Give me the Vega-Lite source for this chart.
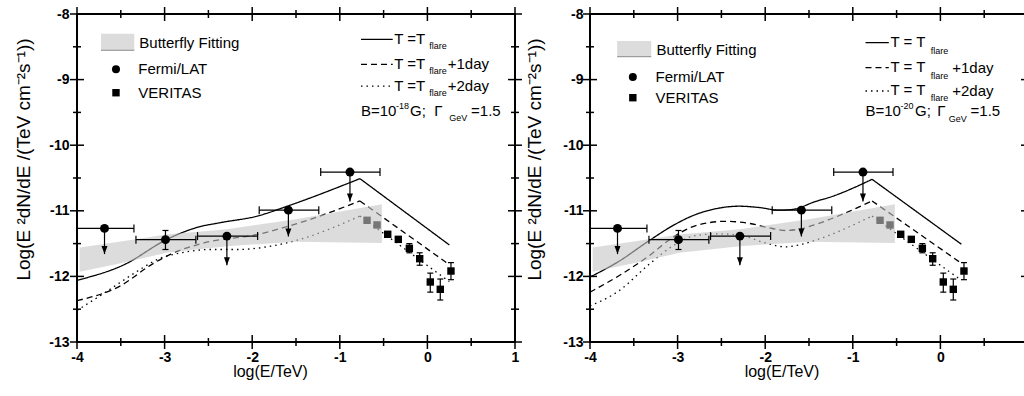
{
  "$schema": "https://vega.github.io/schema/vega-lite/v6.json",
  "padding": {"left": 13, "top": 6, "right": 0, "bottom": 0},
  "autosize": {"type": "pad"},
  "background": "white",
  "spacing": 75,
  "bounds": "flush",
  "config": {
    "view": {"stroke": "black", "strokeWidth": 2},
    "font": "Liberation Sans",
    "axis": {"labelColor": "black", "titleColor": "black", "grid": false, "domain": false, "labelFont": "Liberation Sans", "titleFont": "Liberation Sans"}
  },
  "datasets": {
    "curves": [
      {"panel": "L", "case": "flare", "seg": "a", "x": -4, "y": -12.06},
      {"panel": "L", "case": "flare", "seg": "a", "x": -3.46, "y": -11.82},
      {"panel": "L", "case": "flare", "seg": "a", "x": -2.98, "y": -11.44},
      {"panel": "L", "case": "flare", "seg": "a", "x": -2.85, "y": -11.36},
      {"panel": "L", "case": "flare", "seg": "a", "x": -2.62, "y": -11.25},
      {"panel": "L", "case": "flare", "seg": "a", "x": -2.36, "y": -11.18},
      {"panel": "L", "case": "flare", "seg": "a", "x": -1.94, "y": -11.08},
      {"panel": "L", "case": "flare", "seg": "a", "x": -1.6, "y": -10.93},
      {"panel": "L", "case": "flare", "seg": "a", "x": -0.77, "y": -10.51},
      {"panel": "L", "case": "flare", "seg": "b", "x": -0.77, "y": -10.51},
      {"panel": "L", "case": "flare", "seg": "b", "x": 0.25, "y": -11.52},
      {"panel": "L", "case": "day1", "seg": "a", "x": -4, "y": -12.37},
      {"panel": "L", "case": "day1", "seg": "a", "x": -3.5, "y": -12.14},
      {"panel": "L", "case": "day1", "seg": "a", "x": -3.15, "y": -11.82},
      {"panel": "L", "case": "day1", "seg": "a", "x": -2.93, "y": -11.66},
      {"panel": "L", "case": "day1", "seg": "a", "x": -2.55, "y": -11.49},
      {"panel": "L", "case": "day1", "seg": "a", "x": -1.94, "y": -11.36},
      {"panel": "L", "case": "day1", "seg": "a", "x": -1.5, "y": -11.2},
      {"panel": "L", "case": "day1", "seg": "a", "x": -0.77, "y": -10.85},
      {"panel": "L", "case": "day1", "seg": "b", "x": -0.77, "y": -10.85},
      {"panel": "L", "case": "day1", "seg": "b", "x": 0.25, "y": -11.82},
      {"panel": "L", "case": "day2", "seg": "a", "x": -4, "y": -12.52},
      {"panel": "L", "case": "day2", "seg": "a", "x": -3.65, "y": -12.22},
      {"panel": "L", "case": "day2", "seg": "a", "x": -3.31, "y": -11.92},
      {"panel": "L", "case": "day2", "seg": "a", "x": -3.08, "y": -11.74},
      {"panel": "L", "case": "day2", "seg": "a", "x": -2.81, "y": -11.64},
      {"panel": "L", "case": "day2", "seg": "a", "x": -2.47, "y": -11.59},
      {"panel": "L", "case": "day2", "seg": "a", "x": -2.17, "y": -11.59},
      {"panel": "L", "case": "day2", "seg": "a", "x": -1.79, "y": -11.54},
      {"panel": "L", "case": "day2", "seg": "a", "x": -1.44, "y": -11.43},
      {"panel": "L", "case": "day2", "seg": "a", "x": -0.77, "y": -11.08},
      {"panel": "L", "case": "day2", "seg": "b", "x": -0.77, "y": -11.08},
      {"panel": "L", "case": "day2", "seg": "b", "x": 0.25, "y": -12.08},
      {"panel": "R", "case": "flare", "seg": "a", "x": -4, "y": -12.01},
      {"panel": "R", "case": "flare", "seg": "a", "x": -3.67, "y": -11.77},
      {"panel": "R", "case": "flare", "seg": "a", "x": -3.33, "y": -11.46},
      {"panel": "R", "case": "flare", "seg": "a", "x": -3.06, "y": -11.23},
      {"panel": "R", "case": "flare", "seg": "a", "x": -2.8, "y": -11.06},
      {"panel": "R", "case": "flare", "seg": "a", "x": -2.53, "y": -10.96},
      {"panel": "R", "case": "flare", "seg": "a", "x": -2.3, "y": -10.93},
      {"panel": "R", "case": "flare", "seg": "a", "x": -2.07, "y": -10.95},
      {"panel": "R", "case": "flare", "seg": "a", "x": -1.845, "y": -10.99},
      {"panel": "R", "case": "flare", "seg": "a", "x": -1.69, "y": -10.98},
      {"panel": "R", "case": "flare", "seg": "a", "x": -1.43, "y": -10.86},
      {"panel": "R", "case": "flare", "seg": "a", "x": -1.255, "y": -10.79},
      {"panel": "R", "case": "flare", "seg": "a", "x": -0.78, "y": -10.52},
      {"panel": "R", "case": "flare", "seg": "b", "x": -0.78, "y": -10.52},
      {"panel": "R", "case": "flare", "seg": "b", "x": 0.24, "y": -11.51},
      {"panel": "R", "case": "day1", "seg": "a", "x": -4, "y": -12.24},
      {"panel": "R", "case": "day1", "seg": "a", "x": -3.67, "y": -11.99},
      {"panel": "R", "case": "day1", "seg": "a", "x": -3.33, "y": -11.69},
      {"panel": "R", "case": "day1", "seg": "a", "x": -3.06, "y": -11.41},
      {"panel": "R", "case": "day1", "seg": "a", "x": -2.8, "y": -11.23},
      {"panel": "R", "case": "day1", "seg": "a", "x": -2.45, "y": -11.16},
      {"panel": "R", "case": "day1", "seg": "a", "x": -2.19, "y": -11.19},
      {"panel": "R", "case": "day1", "seg": "a", "x": -1.92, "y": -11.27},
      {"panel": "R", "case": "day1", "seg": "a", "x": -1.77, "y": -11.3},
      {"panel": "R", "case": "day1", "seg": "a", "x": -1.58, "y": -11.27},
      {"panel": "R", "case": "day1", "seg": "a", "x": -1.43, "y": -11.21},
      {"panel": "R", "case": "day1", "seg": "a", "x": -0.78, "y": -10.85},
      {"panel": "R", "case": "day1", "seg": "b", "x": -0.78, "y": -10.85},
      {"panel": "R", "case": "day1", "seg": "b", "x": 0.24, "y": -11.8},
      {"panel": "R", "case": "day2", "seg": "a", "x": -4, "y": -12.45},
      {"panel": "R", "case": "day2", "seg": "a", "x": -3.67, "y": -12.22},
      {"panel": "R", "case": "day2", "seg": "a", "x": -3.33, "y": -11.82},
      {"panel": "R", "case": "day2", "seg": "a", "x": -3.06, "y": -11.54},
      {"panel": "R", "case": "day2", "seg": "a", "x": -2.8, "y": -11.38},
      {"panel": "R", "case": "day2", "seg": "a", "x": -2.53, "y": -11.35},
      {"panel": "R", "case": "day2", "seg": "a", "x": -2.26, "y": -11.38},
      {"panel": "R", "case": "day2", "seg": "a", "x": -2.0, "y": -11.49},
      {"panel": "R", "case": "day2", "seg": "a", "x": -1.77, "y": -11.55},
      {"panel": "R", "case": "day2", "seg": "a", "x": -1.58, "y": -11.51},
      {"panel": "R", "case": "day2", "seg": "a", "x": -1.43, "y": -11.45},
      {"panel": "R", "case": "day2", "seg": "a", "x": -0.78, "y": -11.08},
      {"panel": "R", "case": "day2", "seg": "b", "x": -0.78, "y": -11.08},
      {"panel": "R", "case": "day2", "seg": "b", "x": 0.24, "y": -12.06}
    ],
    "band": [
      {"x": -3.97, "lo": -11.93, "hi": -11.56},
      {"x": -3.46, "lo": -11.79, "hi": -11.46},
      {"x": -2.98, "lo": -11.64, "hi": -11.36},
      {"x": -2.29, "lo": -11.54, "hi": -11.28},
      {"x": -1.5, "lo": -11.47, "hi": -11.13},
      {"x": -0.52, "lo": -11.49, "hi": -10.9}
    ],
    "veritas": [
      {"x": -0.689, "y": -11.145},
      {"x": -0.575, "y": -11.216},
      {"x": -0.453, "y": -11.358},
      {"x": -0.332, "y": -11.435},
      {"x": -0.206, "y": -11.572, "ylo": -11.64, "yhi": -11.5},
      {"x": -0.088, "y": -11.73, "ylo": -11.83, "yhi": -11.64},
      {"x": 0.033, "y": -12.085, "ylo": -12.24, "yhi": -11.95},
      {"x": 0.147, "y": -12.197, "ylo": -12.36, "yhi": -12.04},
      {"x": 0.269, "y": -11.918, "ylo": -12.05, "yhi": -11.79}
    ],
    "fermi": [
      {"x": -3.686, "y": -11.268, "xlo": -4.02, "xhi": -3.35, "ul": -11.66},
      {"x": -2.99, "y": -11.44, "xlo": -3.327, "xhi": -2.643, "ylo": -11.59, "yhi": -11.3},
      {"x": -2.289, "y": -11.386, "xlo": -2.624, "xhi": -1.938, "ul": -11.83},
      {"x": -1.587, "y": -10.99, "xlo": -1.92, "xhi": -1.24, "ul": -11.39},
      {"x": -0.884, "y": -10.41, "xlo": -1.218, "xhi": -0.541, "ul": -10.86}
    ],
    "xticks": [
      {"v": -4, "kind": "major", "edge": -13}, {"v": -3.5, "kind": "minor", "edge": -13}, {"v": -3, "kind": "major", "edge": -13}, {"v": -2.5, "kind": "minor", "edge": -13},
      {"v": -2, "kind": "major", "edge": -13}, {"v": -1.5, "kind": "minor", "edge": -13}, {"v": -1, "kind": "major", "edge": -13}, {"v": -0.5, "kind": "minor", "edge": -13},
      {"v": 0, "kind": "major", "edge": -13}, {"v": 0.5, "kind": "minor", "edge": -13}, {"v": 1, "kind": "major", "edge": -13},
      {"v": -4, "kind": "major", "edge": -8}, {"v": -3.5, "kind": "minor", "edge": -8}, {"v": -3, "kind": "major", "edge": -8}, {"v": -2.5, "kind": "minor", "edge": -8},
      {"v": -2, "kind": "major", "edge": -8}, {"v": -1.5, "kind": "minor", "edge": -8}, {"v": -1, "kind": "major", "edge": -8}, {"v": -0.5, "kind": "minor", "edge": -8},
      {"v": 0, "kind": "major", "edge": -8}, {"v": 0.5, "kind": "minor", "edge": -8}, {"v": 1, "kind": "major", "edge": -8}
    ],
    "yticks": [
      {"v": -13, "kind": "major", "edge": -4}, {"v": -12.5, "kind": "minor", "edge": -4}, {"v": -12, "kind": "major", "edge": -4}, {"v": -11.5, "kind": "minor", "edge": -4},
      {"v": -11, "kind": "major", "edge": -4}, {"v": -10.5, "kind": "minor", "edge": -4}, {"v": -10, "kind": "major", "edge": -4}, {"v": -9.5, "kind": "minor", "edge": -4},
      {"v": -9, "kind": "major", "edge": -4}, {"v": -8.5, "kind": "minor", "edge": -4}, {"v": -8, "kind": "major", "edge": -4},
      {"v": -13, "kind": "major", "edge": 1}, {"v": -12.5, "kind": "minor", "edge": 1}, {"v": -12, "kind": "major", "edge": 1}, {"v": -11.5, "kind": "minor", "edge": 1},
      {"v": -11, "kind": "major", "edge": 1}, {"v": -10.5, "kind": "minor", "edge": 1}, {"v": -10, "kind": "major", "edge": 1}, {"v": -9.5, "kind": "minor", "edge": 1},
      {"v": -9, "kind": "major", "edge": 1}, {"v": -8.5, "kind": "minor", "edge": 1}, {"v": -8, "kind": "major", "edge": 1}
    ],
    "legrect": [
      {"panel": "L", "x": -3.726, "x2": -3.346, "y": -8.3, "y2": -8.553},
      {"panel": "R", "x": -3.69, "x2": -3.301, "y": -8.412, "y2": -8.651}
    ],
    "legsym": [
      {"panel": "L", "kind": "F", "x": -3.555, "y": -8.843},
      {"panel": "L", "kind": "V", "x": -3.555, "y": -9.2},
      {"panel": "R", "kind": "F", "x": -3.511, "y": -8.96},
      {"panel": "R", "kind": "V", "x": -3.511, "y": -9.276}
    ],
    "leglines": [
      {"panel": "L", "case": "flare", "x": -0.758, "y": -8.386},
      {"panel": "L", "case": "flare", "x": -0.396, "y": -8.386},
      {"panel": "L", "case": "day1", "x": -0.758, "y": -8.767},
      {"panel": "L", "case": "day1", "x": -0.396, "y": -8.767},
      {"panel": "L", "case": "day2", "x": -0.758, "y": -9.098},
      {"panel": "L", "case": "day2", "x": -0.396, "y": -9.098},
      {"panel": "R", "case": "flare", "x": -0.855, "y": -8.437},
      {"panel": "R", "case": "flare", "x": -0.589, "y": -8.437},
      {"panel": "R", "case": "day1", "x": -0.855, "y": -8.818},
      {"panel": "R", "case": "day1", "x": -0.589, "y": -8.818},
      {"panel": "R", "case": "day2", "x": -0.855, "y": -9.174},
      {"panel": "R", "case": "day2", "x": -0.589, "y": -9.174}
    ],
    "legtext": [
      {"panel": "L", "x": -3.289, "y": -8.437, "text": "Butterfly Fitting"},
      {"panel": "L", "x": -3.3, "y": -8.843, "text": "Fermi/LAT"},
      {"panel": "L", "x": -3.3, "y": -9.2, "text": "VERITAS"},
      {"panel": "L", "x": -0.378, "y": -8.375, "text": "T =T"},
      {"panel": "L", "x": -0.378, "y": -8.757, "text": "T =T"},
      {"panel": "L", "x": 0.232, "y": -8.767, "text": "+1day"},
      {"panel": "L", "x": -0.378, "y": -9.09, "text": "T =T"},
      {"panel": "L", "x": 0.232, "y": -9.098, "text": "+2day"},
      {"panel": "L", "x": -0.758, "y": -9.479, "text": "B=10"},
      {"panel": "L", "x": -0.199, "y": -9.479, "text": "G;"},
      {"panel": "L", "x": 0.079, "y": -9.479, "text": "Γ"},
      {"panel": "L", "x": 0.498, "y": -9.479, "text": "=1.5"},
      {"panel": "R", "x": -3.241, "y": -8.554, "text": "Butterfly Fitting"},
      {"panel": "R", "x": -3.252, "y": -8.96, "text": "Fermi/LAT"},
      {"panel": "R", "x": -3.252, "y": -9.276, "text": "VERITAS"},
      {"panel": "R", "x": -0.57, "y": -8.422, "text": "T = T"},
      {"panel": "R", "x": -0.57, "y": -8.808, "text": "T = T"},
      {"panel": "R", "x": 0.135, "y": -8.818, "text": "+1day"},
      {"panel": "R", "x": -0.57, "y": -9.164, "text": "T = T"},
      {"panel": "R", "x": 0.135, "y": -9.174, "text": "+2day"},
      {"panel": "R", "x": -0.855, "y": -9.479, "text": "B=10"},
      {"panel": "R", "x": -0.29, "y": -9.479, "text": "G;"},
      {"panel": "R", "x": -0.037, "y": -9.479, "text": "Γ"},
      {"panel": "R", "x": 0.344, "y": -9.479, "text": "=1.5"}
    ],
    "legsub": [
      {"panel": "L", "x": 0.022, "y": -8.488, "text": "flare"},
      {"panel": "L", "x": 0.022, "y": -8.869, "text": "flare"},
      {"panel": "L", "x": 0.022, "y": -9.2, "text": "flare"},
      {"panel": "L", "x": 0.25, "y": -9.581, "text": "GeV"},
      {"panel": "L", "x": -0.358, "y": -9.402, "text": "-18"},
      {"panel": "R", "x": -0.11, "y": -8.564, "text": "flare"},
      {"panel": "R", "x": -0.11, "y": -8.945, "text": "flare"},
      {"panel": "R", "x": -0.11, "y": -9.285, "text": "flare"},
      {"panel": "R", "x": 0.096, "y": -9.606, "text": "GeV"},
      {"panel": "R", "x": -0.455, "y": -9.402, "text": "-20"}
    ]
  },
  "hconcat": [
    {
      "width": 438,
      "height": 328,
      "resolve": {"axis": {"x": "independent", "y": "independent"}},
      "layer": [
        {
          "data": {"name": "curves"},
          "transform": [{"filter": "datum.panel == 'L'"}],
          "mark": {"type": "line", "color": "black", "strokeWidth": 1.3, "interpolate": "monotone", "clip": true},
          "encoding": {
            "x": {"field": "x", "type": "quantitative", "scale": {"domain": [-4, 1], "nice": false, "zero": false},
              "axis": {"orient": "bottom", "values": [-4, -3, -2, -1, 0, 1], "ticks": false, "labelFlush": false, "labelFontSize": 14, "labelFontWeight": "bold", "labelPadding": 8, "labelExpr": "replace(datum.label, '−', '-')", "title": "log(E/TeV)", "titleFontSize": 16, "titleFontWeight": "normal", "titleX": 193, "titleY": 34, "titleAlign": "center", "titleBaseline": "alphabetic"}},
            "y": {"field": "y", "type": "quantitative", "scale": {"domain": [-13, -8], "nice": false, "zero": false},
              "axis": {"orient": "left", "values": [-13, -12, -11, -10, -9, -8], "ticks": false, "labelFlush": false, "labelFontSize": 14, "labelFontWeight": "bold", "labelPadding": 8, "labelExpr": "replace(datum.label, '−', '-')", "title": "Log(E ²dN/dE /(TeV cm⁻²s⁻¹))", "titleFontSize": 19, "titleFontWeight": "normal", "titleX": -47.5, "titleY": 145, "titleAngle": -90, "titleAlign": "center", "titleBaseline": "alphabetic"}},
            "strokeDash": {"field": "case", "type": "nominal", "scale": {"domain": ["flare", "day1", "day2"], "range": [[1, 0], [6, 4], [1.5, 4]]}, "legend": null},
            "detail": {"field": "seg"}
          }
        },
        {
          "data": {"name": "xticks"},
          "mark": {"type": "tick", "orient": "vertical", "thickness": 1.5, "color": "black", "opacity": 1},
          "encoding": {
            "x": {"field": "v", "type": "quantitative", "scale": {"domain": [-4, 1], "nice": false, "zero": false}, "axis": null},
            "y": {"field": "edge", "type": "quantitative", "scale": {"domain": [-13, -8], "nice": false, "zero": false}, "axis": null},
            "size": {"field": "kind", "type": "nominal", "scale": {"domain": ["major", "minor"], "range": [14, 8]}, "legend": null}
          }
        },
        {
          "data": {"name": "yticks"},
          "mark": {"type": "tick", "orient": "horizontal", "thickness": 1.5, "color": "black", "opacity": 1},
          "encoding": {
            "x": {"field": "edge", "type": "quantitative", "scale": {"domain": [-4, 1], "nice": false, "zero": false}, "axis": null},
            "y": {"field": "v", "type": "quantitative", "scale": {"domain": [-13, -8], "nice": false, "zero": false}, "axis": null},
            "size": {"field": "kind", "type": "nominal", "scale": {"domain": ["major", "minor"], "range": [14, 8]}, "legend": null}
          }
        },
        {
          "data": {"name": "veritas"},
          "transform": [{"filter": "isValid(datum.ylo)"}],
          "mark": {"type": "rule", "color": "black", "strokeWidth": 1.2},
          "encoding": {
            "x": {"field": "x", "type": "quantitative", "scale": {"domain": [-4, 1], "nice": false, "zero": false}, "axis": null},
            "y": {"field": "ylo", "type": "quantitative", "scale": {"domain": [-13, -8], "nice": false, "zero": false}, "axis": null},
            "y2": {"field": "yhi"}
          }
        },
        {
          "data": {"name": "veritas"},
          "transform": [{"filter": "isValid(datum.ylo)"}],
          "mark": {"type": "tick", "orient": "horizontal", "color": "black", "opacity": 1, "size": 6, "thickness": 1.2},
          "encoding": {
            "x": {"field": "x", "type": "quantitative", "scale": {"domain": [-4, 1], "nice": false, "zero": false}, "axis": null},
            "y": {"field": "ylo", "type": "quantitative", "scale": {"domain": [-13, -8], "nice": false, "zero": false}, "axis": null}
          }
        },
        {
          "data": {"name": "veritas"},
          "transform": [{"filter": "isValid(datum.yhi)"}],
          "mark": {"type": "tick", "orient": "horizontal", "color": "black", "opacity": 1, "size": 6, "thickness": 1.2},
          "encoding": {
            "x": {"field": "x", "type": "quantitative", "scale": {"domain": [-4, 1], "nice": false, "zero": false}, "axis": null},
            "y": {"field": "yhi", "type": "quantitative", "scale": {"domain": [-13, -8], "nice": false, "zero": false}, "axis": null}
          }
        },
        {
          "data": {"name": "veritas"},
          "mark": {"type": "point", "shape": "square", "filled": true, "size": 55, "color": "black", "opacity": 1},
          "encoding": {
            "x": {"field": "x", "type": "quantitative", "scale": {"domain": [-4, 1], "nice": false, "zero": false}, "axis": null},
            "y": {"field": "y", "type": "quantitative", "scale": {"domain": [-13, -8], "nice": false, "zero": false}, "axis": null}
          }
        },
        {
          "data": {"name": "band"},
          "mark": {"type": "area", "color": "#c4c4c4", "opacity": 0.6},
          "encoding": {
            "x": {"field": "x", "type": "quantitative", "scale": {"domain": [-4, 1], "nice": false, "zero": false}, "axis": null},
            "y": {"field": "lo", "type": "quantitative", "scale": {"domain": [-13, -8], "nice": false, "zero": false}, "axis": null},
            "y2": {"field": "hi"}
          }
        },
        {
          "data": {"name": "fermi"},
          "mark": {"type": "rule", "color": "black", "strokeWidth": 1.2, "clip": true},
          "encoding": {
            "x": {"field": "xlo", "type": "quantitative", "scale": {"domain": [-4, 1], "nice": false, "zero": false}, "axis": null},
            "x2": {"field": "xhi"},
            "y": {"field": "y", "type": "quantitative", "scale": {"domain": [-13, -8], "nice": false, "zero": false}, "axis": null}
          }
        },
        {
          "data": {"name": "fermi"},
          "mark": {"type": "tick", "orient": "vertical", "color": "black", "opacity": 1, "size": 8, "thickness": 1.2, "clip": true},
          "encoding": {
            "x": {"field": "xlo", "type": "quantitative", "scale": {"domain": [-4, 1], "nice": false, "zero": false}, "axis": null},
            "y": {"field": "y", "type": "quantitative", "scale": {"domain": [-13, -8], "nice": false, "zero": false}, "axis": null}
          }
        },
        {
          "data": {"name": "fermi"},
          "mark": {"type": "tick", "orient": "vertical", "color": "black", "opacity": 1, "size": 8, "thickness": 1.2},
          "encoding": {
            "x": {"field": "xhi", "type": "quantitative", "scale": {"domain": [-4, 1], "nice": false, "zero": false}, "axis": null},
            "y": {"field": "y", "type": "quantitative", "scale": {"domain": [-13, -8], "nice": false, "zero": false}, "axis": null}
          }
        },
        {
          "data": {"name": "fermi"},
          "transform": [{"filter": "isValid(datum.ylo)"}],
          "mark": {"type": "rule", "color": "black", "strokeWidth": 1.2},
          "encoding": {
            "x": {"field": "x", "type": "quantitative", "scale": {"domain": [-4, 1], "nice": false, "zero": false}, "axis": null},
            "y": {"field": "ylo", "type": "quantitative", "scale": {"domain": [-13, -8], "nice": false, "zero": false}, "axis": null},
            "y2": {"field": "yhi"}
          }
        },
        {
          "data": {"name": "fermi"},
          "transform": [{"filter": "isValid(datum.ylo)"}],
          "mark": {"type": "tick", "orient": "horizontal", "color": "black", "opacity": 1, "size": 6, "thickness": 1.2},
          "encoding": {
            "x": {"field": "x", "type": "quantitative", "scale": {"domain": [-4, 1], "nice": false, "zero": false}, "axis": null},
            "y": {"field": "ylo", "type": "quantitative", "scale": {"domain": [-13, -8], "nice": false, "zero": false}, "axis": null}
          }
        },
        {
          "data": {"name": "fermi"},
          "transform": [{"filter": "isValid(datum.yhi)"}],
          "mark": {"type": "tick", "orient": "horizontal", "color": "black", "opacity": 1, "size": 6, "thickness": 1.2},
          "encoding": {
            "x": {"field": "x", "type": "quantitative", "scale": {"domain": [-4, 1], "nice": false, "zero": false}, "axis": null},
            "y": {"field": "yhi", "type": "quantitative", "scale": {"domain": [-13, -8], "nice": false, "zero": false}, "axis": null}
          }
        },
        {
          "data": {"name": "fermi"},
          "transform": [{"filter": "isValid(datum.ul)"}],
          "mark": {"type": "rule", "color": "black", "strokeWidth": 1.2},
          "encoding": {
            "x": {"field": "x", "type": "quantitative", "scale": {"domain": [-4, 1], "nice": false, "zero": false}, "axis": null},
            "y": {"field": "y", "type": "quantitative", "scale": {"domain": [-13, -8], "nice": false, "zero": false}, "axis": null},
            "y2": {"field": "ul"}
          }
        },
        {
          "data": {"name": "fermi"},
          "transform": [{"filter": "isValid(datum.ul)"}],
          "mark": {"type": "point", "shape": "M-0.75,-2L0.75,-2L0,0Z", "filled": true, "size": 64, "color": "black", "opacity": 1},
          "encoding": {
            "x": {"field": "x", "type": "quantitative", "scale": {"domain": [-4, 1], "nice": false, "zero": false}, "axis": null},
            "y": {"field": "ul", "type": "quantitative", "scale": {"domain": [-13, -8], "nice": false, "zero": false}, "axis": null}
          }
        },
        {
          "data": {"name": "fermi"},
          "mark": {"type": "point", "shape": "circle", "filled": true, "size": 80, "color": "black", "opacity": 1},
          "encoding": {
            "x": {"field": "x", "type": "quantitative", "scale": {"domain": [-4, 1], "nice": false, "zero": false}, "axis": null},
            "y": {"field": "y", "type": "quantitative", "scale": {"domain": [-13, -8], "nice": false, "zero": false}, "axis": null}
          }
        },
        {
          "data": {"name": "legrect"},
          "transform": [{"filter": "datum.panel == 'L'"}],
          "mark": {"type": "rect", "color": "#c4c4c4", "opacity": 0.6},
          "encoding": {
            "x": {"field": "x", "type": "quantitative", "scale": {"domain": [-4, 1], "nice": false, "zero": false}, "axis": null},
            "x2": {"field": "x2"},
            "y": {"field": "y", "type": "quantitative", "scale": {"domain": [-13, -8], "nice": false, "zero": false}, "axis": null},
            "y2": {"field": "y2"}
          }
        },
        {
          "data": {"name": "legrect"},
          "transform": [{"filter": "datum.panel == 'L'"}],
          "mark": {"type": "rule", "color": "#8a8a8a", "strokeWidth": 1},
          "encoding": {
            "x": {"field": "x", "type": "quantitative", "scale": {"domain": [-4, 1], "nice": false, "zero": false}, "axis": null},
            "x2": {"field": "x2"},
            "y": {"field": "y2", "type": "quantitative", "scale": {"domain": [-13, -8], "nice": false, "zero": false}, "axis": null}
          }
        },
        {
          "data": {"name": "leglines"},
          "transform": [{"filter": "datum.panel == 'L'"}],
          "mark": {"type": "line", "color": "black", "strokeWidth": 1.3},
          "encoding": {
            "x": {"field": "x", "type": "quantitative", "scale": {"domain": [-4, 1], "nice": false, "zero": false}, "axis": null},
            "y": {"field": "y", "type": "quantitative", "scale": {"domain": [-13, -8], "nice": false, "zero": false}, "axis": null},
            "strokeDash": {"field": "case", "type": "nominal", "scale": {"domain": ["flare", "day1", "day2"], "range": [[1, 0], [6, 4], [1.5, 4]]}, "legend": null}
          }
        },
        {
          "data": {"name": "legsym"},
          "transform": [{"filter": "datum.panel == 'L' && datum.kind == 'F'"}],
          "mark": {"type": "point", "shape": "circle", "filled": true, "size": 64, "color": "black", "opacity": 1},
          "encoding": {
            "x": {"field": "x", "type": "quantitative", "scale": {"domain": [-4, 1], "nice": false, "zero": false}, "axis": null},
            "y": {"field": "y", "type": "quantitative", "scale": {"domain": [-13, -8], "nice": false, "zero": false}, "axis": null}
          }
        },
        {
          "data": {"name": "legsym"},
          "transform": [{"filter": "datum.panel == 'L' && datum.kind == 'V'"}],
          "mark": {"type": "point", "shape": "square", "filled": true, "size": 55, "color": "black", "opacity": 1},
          "encoding": {
            "x": {"field": "x", "type": "quantitative", "scale": {"domain": [-4, 1], "nice": false, "zero": false}, "axis": null},
            "y": {"field": "y", "type": "quantitative", "scale": {"domain": [-13, -8], "nice": false, "zero": false}, "axis": null}
          }
        },
        {
          "data": {"name": "legtext"},
          "transform": [{"filter": "datum.panel == 'L'"}],
          "mark": {"type": "text", "align": "left", "baseline": "middle", "fontSize": 15, "font": "Liberation Sans", "color": "black"},
          "encoding": {
            "x": {"field": "x", "type": "quantitative", "scale": {"domain": [-4, 1], "nice": false, "zero": false}, "axis": null},
            "y": {"field": "y", "type": "quantitative", "scale": {"domain": [-13, -8], "nice": false, "zero": false}, "axis": null},
            "text": {"field": "text"}
          }
        },
        {
          "data": {"name": "legsub"},
          "transform": [{"filter": "datum.panel == 'L'"}],
          "mark": {"type": "text", "align": "left", "baseline": "middle", "fontSize": 9, "font": "Liberation Sans", "color": "black"},
          "encoding": {
            "x": {"field": "x", "type": "quantitative", "scale": {"domain": [-4, 1], "nice": false, "zero": false}, "axis": null},
            "y": {"field": "y", "type": "quantitative", "scale": {"domain": [-13, -8], "nice": false, "zero": false}, "axis": null},
            "text": {"field": "text"}
          }
        }
      ]
    },
    {
      "width": 438,
      "height": 328,
      "resolve": {"axis": {"x": "independent", "y": "independent"}},
      "layer": [
        {
          "data": {"name": "curves"},
          "transform": [{"filter": "datum.panel == 'R'"}],
          "mark": {"type": "line", "color": "black", "strokeWidth": 1.3, "interpolate": "monotone", "clip": true},
          "encoding": {
            "x": {"field": "x", "type": "quantitative", "scale": {"domain": [-4, 1], "nice": false, "zero": false},
              "axis": {"orient": "bottom", "values": [-4, -3, -2, -1, 0], "ticks": false, "labelFlush": false, "labelFontSize": 14, "labelFontWeight": "bold", "labelPadding": 8, "labelExpr": "replace(datum.label, '−', '-')", "title": "log(E/TeV)", "titleFontSize": 16, "titleFontWeight": "normal", "titleX": 191.5, "titleY": 34, "titleAlign": "center", "titleBaseline": "alphabetic"}},
            "y": {"field": "y", "type": "quantitative", "scale": {"domain": [-13, -8], "nice": false, "zero": false},
              "axis": {"orient": "left", "values": [-13, -12, -11, -10, -9, -8], "ticks": false, "labelFlush": false, "labelFontSize": 14, "labelFontWeight": "bold", "labelPadding": 7, "labelExpr": "replace(datum.label, '−', '-')", "title": "Log(E ²dN/dE /(TeV cm⁻²s⁻¹))", "titleFontSize": 19, "titleFontWeight": "normal", "titleX": -50, "titleY": 145, "titleAngle": -90, "titleAlign": "center", "titleBaseline": "alphabetic"}},
            "strokeDash": {"field": "case", "type": "nominal", "scale": {"domain": ["flare", "day1", "day2"], "range": [[1, 0], [6, 4], [1.5, 4]]}, "legend": null},
            "detail": {"field": "seg"}
          }
        },
        {
          "data": {"name": "xticks"},
          "mark": {"type": "tick", "orient": "vertical", "thickness": 1.5, "color": "black", "opacity": 1},
          "encoding": {
            "x": {"field": "v", "type": "quantitative", "scale": {"domain": [-4, 1], "nice": false, "zero": false}, "axis": null},
            "y": {"field": "edge", "type": "quantitative", "scale": {"domain": [-13, -8], "nice": false, "zero": false}, "axis": null},
            "size": {"field": "kind", "type": "nominal", "scale": {"domain": ["major", "minor"], "range": [14, 8]}, "legend": null}
          }
        },
        {
          "data": {"name": "yticks"},
          "mark": {"type": "tick", "orient": "horizontal", "thickness": 1.5, "color": "black", "opacity": 1},
          "encoding": {
            "x": {"field": "edge", "type": "quantitative", "scale": {"domain": [-4, 1], "nice": false, "zero": false}, "axis": null},
            "y": {"field": "v", "type": "quantitative", "scale": {"domain": [-13, -8], "nice": false, "zero": false}, "axis": null},
            "size": {"field": "kind", "type": "nominal", "scale": {"domain": ["major", "minor"], "range": [14, 8]}, "legend": null}
          }
        },
        {
          "data": {"name": "veritas"},
          "transform": [{"filter": "isValid(datum.ylo)"}],
          "mark": {"type": "rule", "color": "black", "strokeWidth": 1.2},
          "encoding": {
            "x": {"field": "x", "type": "quantitative", "scale": {"domain": [-4, 1], "nice": false, "zero": false}, "axis": null},
            "y": {"field": "ylo", "type": "quantitative", "scale": {"domain": [-13, -8], "nice": false, "zero": false}, "axis": null},
            "y2": {"field": "yhi"}
          }
        },
        {
          "data": {"name": "veritas"},
          "transform": [{"filter": "isValid(datum.ylo)"}],
          "mark": {"type": "tick", "orient": "horizontal", "color": "black", "opacity": 1, "size": 6, "thickness": 1.2},
          "encoding": {
            "x": {"field": "x", "type": "quantitative", "scale": {"domain": [-4, 1], "nice": false, "zero": false}, "axis": null},
            "y": {"field": "ylo", "type": "quantitative", "scale": {"domain": [-13, -8], "nice": false, "zero": false}, "axis": null}
          }
        },
        {
          "data": {"name": "veritas"},
          "transform": [{"filter": "isValid(datum.yhi)"}],
          "mark": {"type": "tick", "orient": "horizontal", "color": "black", "opacity": 1, "size": 6, "thickness": 1.2},
          "encoding": {
            "x": {"field": "x", "type": "quantitative", "scale": {"domain": [-4, 1], "nice": false, "zero": false}, "axis": null},
            "y": {"field": "yhi", "type": "quantitative", "scale": {"domain": [-13, -8], "nice": false, "zero": false}, "axis": null}
          }
        },
        {
          "data": {"name": "veritas"},
          "mark": {"type": "point", "shape": "square", "filled": true, "size": 55, "color": "black", "opacity": 1},
          "encoding": {
            "x": {"field": "x", "type": "quantitative", "scale": {"domain": [-4, 1], "nice": false, "zero": false}, "axis": null},
            "y": {"field": "y", "type": "quantitative", "scale": {"domain": [-13, -8], "nice": false, "zero": false}, "axis": null}
          }
        },
        {
          "data": {"name": "band"},
          "mark": {"type": "area", "color": "#c4c4c4", "opacity": 0.6},
          "encoding": {
            "x": {"field": "x", "type": "quantitative", "scale": {"domain": [-4, 1], "nice": false, "zero": false}, "axis": null},
            "y": {"field": "lo", "type": "quantitative", "scale": {"domain": [-13, -8], "nice": false, "zero": false}, "axis": null},
            "y2": {"field": "hi"}
          }
        },
        {
          "data": {"name": "fermi"},
          "mark": {"type": "rule", "color": "black", "strokeWidth": 1.2, "clip": true},
          "encoding": {
            "x": {"field": "xlo", "type": "quantitative", "scale": {"domain": [-4, 1], "nice": false, "zero": false}, "axis": null},
            "x2": {"field": "xhi"},
            "y": {"field": "y", "type": "quantitative", "scale": {"domain": [-13, -8], "nice": false, "zero": false}, "axis": null}
          }
        },
        {
          "data": {"name": "fermi"},
          "mark": {"type": "tick", "orient": "vertical", "color": "black", "opacity": 1, "size": 8, "thickness": 1.2, "clip": true},
          "encoding": {
            "x": {"field": "xlo", "type": "quantitative", "scale": {"domain": [-4, 1], "nice": false, "zero": false}, "axis": null},
            "y": {"field": "y", "type": "quantitative", "scale": {"domain": [-13, -8], "nice": false, "zero": false}, "axis": null}
          }
        },
        {
          "data": {"name": "fermi"},
          "mark": {"type": "tick", "orient": "vertical", "color": "black", "opacity": 1, "size": 8, "thickness": 1.2},
          "encoding": {
            "x": {"field": "xhi", "type": "quantitative", "scale": {"domain": [-4, 1], "nice": false, "zero": false}, "axis": null},
            "y": {"field": "y", "type": "quantitative", "scale": {"domain": [-13, -8], "nice": false, "zero": false}, "axis": null}
          }
        },
        {
          "data": {"name": "fermi"},
          "transform": [{"filter": "isValid(datum.ylo)"}],
          "mark": {"type": "rule", "color": "black", "strokeWidth": 1.2},
          "encoding": {
            "x": {"field": "x", "type": "quantitative", "scale": {"domain": [-4, 1], "nice": false, "zero": false}, "axis": null},
            "y": {"field": "ylo", "type": "quantitative", "scale": {"domain": [-13, -8], "nice": false, "zero": false}, "axis": null},
            "y2": {"field": "yhi"}
          }
        },
        {
          "data": {"name": "fermi"},
          "transform": [{"filter": "isValid(datum.ylo)"}],
          "mark": {"type": "tick", "orient": "horizontal", "color": "black", "opacity": 1, "size": 6, "thickness": 1.2},
          "encoding": {
            "x": {"field": "x", "type": "quantitative", "scale": {"domain": [-4, 1], "nice": false, "zero": false}, "axis": null},
            "y": {"field": "ylo", "type": "quantitative", "scale": {"domain": [-13, -8], "nice": false, "zero": false}, "axis": null}
          }
        },
        {
          "data": {"name": "fermi"},
          "transform": [{"filter": "isValid(datum.yhi)"}],
          "mark": {"type": "tick", "orient": "horizontal", "color": "black", "opacity": 1, "size": 6, "thickness": 1.2},
          "encoding": {
            "x": {"field": "x", "type": "quantitative", "scale": {"domain": [-4, 1], "nice": false, "zero": false}, "axis": null},
            "y": {"field": "yhi", "type": "quantitative", "scale": {"domain": [-13, -8], "nice": false, "zero": false}, "axis": null}
          }
        },
        {
          "data": {"name": "fermi"},
          "transform": [{"filter": "isValid(datum.ul)"}],
          "mark": {"type": "rule", "color": "black", "strokeWidth": 1.2},
          "encoding": {
            "x": {"field": "x", "type": "quantitative", "scale": {"domain": [-4, 1], "nice": false, "zero": false}, "axis": null},
            "y": {"field": "y", "type": "quantitative", "scale": {"domain": [-13, -8], "nice": false, "zero": false}, "axis": null},
            "y2": {"field": "ul"}
          }
        },
        {
          "data": {"name": "fermi"},
          "transform": [{"filter": "isValid(datum.ul)"}],
          "mark": {"type": "point", "shape": "M-0.75,-2L0.75,-2L0,0Z", "filled": true, "size": 64, "color": "black", "opacity": 1},
          "encoding": {
            "x": {"field": "x", "type": "quantitative", "scale": {"domain": [-4, 1], "nice": false, "zero": false}, "axis": null},
            "y": {"field": "ul", "type": "quantitative", "scale": {"domain": [-13, -8], "nice": false, "zero": false}, "axis": null}
          }
        },
        {
          "data": {"name": "fermi"},
          "mark": {"type": "point", "shape": "circle", "filled": true, "size": 80, "color": "black", "opacity": 1},
          "encoding": {
            "x": {"field": "x", "type": "quantitative", "scale": {"domain": [-4, 1], "nice": false, "zero": false}, "axis": null},
            "y": {"field": "y", "type": "quantitative", "scale": {"domain": [-13, -8], "nice": false, "zero": false}, "axis": null}
          }
        },
        {
          "data": {"name": "legrect"},
          "transform": [{"filter": "datum.panel == 'R'"}],
          "mark": {"type": "rect", "color": "#c4c4c4", "opacity": 0.6},
          "encoding": {
            "x": {"field": "x", "type": "quantitative", "scale": {"domain": [-4, 1], "nice": false, "zero": false}, "axis": null},
            "x2": {"field": "x2"},
            "y": {"field": "y", "type": "quantitative", "scale": {"domain": [-13, -8], "nice": false, "zero": false}, "axis": null},
            "y2": {"field": "y2"}
          }
        },
        {
          "data": {"name": "legrect"},
          "transform": [{"filter": "datum.panel == 'R'"}],
          "mark": {"type": "rule", "color": "#8a8a8a", "strokeWidth": 1},
          "encoding": {
            "x": {"field": "x", "type": "quantitative", "scale": {"domain": [-4, 1], "nice": false, "zero": false}, "axis": null},
            "x2": {"field": "x2"},
            "y": {"field": "y2", "type": "quantitative", "scale": {"domain": [-13, -8], "nice": false, "zero": false}, "axis": null}
          }
        },
        {
          "data": {"name": "leglines"},
          "transform": [{"filter": "datum.panel == 'R'"}],
          "mark": {"type": "line", "color": "black", "strokeWidth": 1.3},
          "encoding": {
            "x": {"field": "x", "type": "quantitative", "scale": {"domain": [-4, 1], "nice": false, "zero": false}, "axis": null},
            "y": {"field": "y", "type": "quantitative", "scale": {"domain": [-13, -8], "nice": false, "zero": false}, "axis": null},
            "strokeDash": {"field": "case", "type": "nominal", "scale": {"domain": ["flare", "day1", "day2"], "range": [[1, 0], [6, 4], [1.5, 4]]}, "legend": null}
          }
        },
        {
          "data": {"name": "legsym"},
          "transform": [{"filter": "datum.panel == 'R' && datum.kind == 'F'"}],
          "mark": {"type": "point", "shape": "circle", "filled": true, "size": 64, "color": "black", "opacity": 1},
          "encoding": {
            "x": {"field": "x", "type": "quantitative", "scale": {"domain": [-4, 1], "nice": false, "zero": false}, "axis": null},
            "y": {"field": "y", "type": "quantitative", "scale": {"domain": [-13, -8], "nice": false, "zero": false}, "axis": null}
          }
        },
        {
          "data": {"name": "legsym"},
          "transform": [{"filter": "datum.panel == 'R' && datum.kind == 'V'"}],
          "mark": {"type": "point", "shape": "square", "filled": true, "size": 55, "color": "black", "opacity": 1},
          "encoding": {
            "x": {"field": "x", "type": "quantitative", "scale": {"domain": [-4, 1], "nice": false, "zero": false}, "axis": null},
            "y": {"field": "y", "type": "quantitative", "scale": {"domain": [-13, -8], "nice": false, "zero": false}, "axis": null}
          }
        },
        {
          "data": {"name": "legtext"},
          "transform": [{"filter": "datum.panel == 'R'"}],
          "mark": {"type": "text", "align": "left", "baseline": "middle", "fontSize": 15, "font": "Liberation Sans", "color": "black"},
          "encoding": {
            "x": {"field": "x", "type": "quantitative", "scale": {"domain": [-4, 1], "nice": false, "zero": false}, "axis": null},
            "y": {"field": "y", "type": "quantitative", "scale": {"domain": [-13, -8], "nice": false, "zero": false}, "axis": null},
            "text": {"field": "text"}
          }
        },
        {
          "data": {"name": "legsub"},
          "transform": [{"filter": "datum.panel == 'R'"}],
          "mark": {"type": "text", "align": "left", "baseline": "middle", "fontSize": 9, "font": "Liberation Sans", "color": "black"},
          "encoding": {
            "x": {"field": "x", "type": "quantitative", "scale": {"domain": [-4, 1], "nice": false, "zero": false}, "axis": null},
            "y": {"field": "y", "type": "quantitative", "scale": {"domain": [-13, -8], "nice": false, "zero": false}, "axis": null},
            "text": {"field": "text"}
          }
        }
      ]
    }
  ]
}
